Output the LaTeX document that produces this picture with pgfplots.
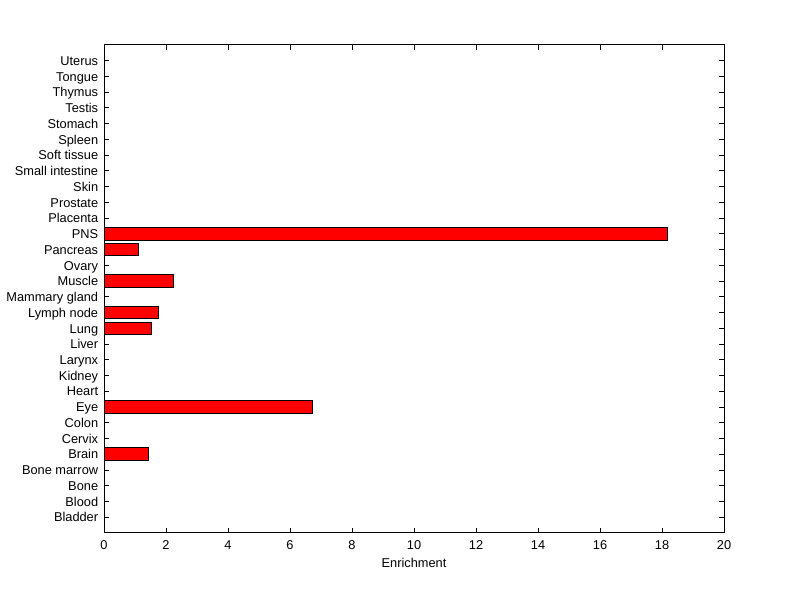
\documentclass[border=0pt]{standalone}
\usepackage{fontspec}
\setmainfont{Liberation Sans}
\usepackage{pgfplots}
\pgfplotsset{compat=1.18}
\begin{document}
\fontsize{9.6pt}{11pt}\selectfont
\begin{tikzpicture}
\useasboundingbox (0,0) rectangle (600pt,449.25pt);
\begin{axis}[
  at={(78pt,49.5pt)}, anchor=south west,
  scale only axis, width=465pt, height=366pt,
  xbar, bar width=0.8,
  xmin=0, xmax=20, ymin=0, ymax=31,
  xtick={0,2,...,20},
  ytick={1,...,30},
  yticklabels={Bladder,Blood,Bone,Bone marrow,Brain,Cervix,Colon,Eye,Heart,Kidney,Larynx,Liver,Lung,Lymph node,Mammary gland,Muscle,Ovary,Pancreas,PNS,Placenta,Prostate,Skin,Small intestine,Soft tissue,Spleen,Stomach,Testis,Thymus,Tongue,Uterus},
  tick align=inside, major tick length=3.75pt,
  xtick pos=both, ytick pos=both,
  tick style={black, line width=0.75pt},
  axis line style={black, line width=0.75pt},
  /pgf/number format/assume math mode=true,
  ticklabel style={font=\fontsize{9.6pt}{11pt}\selectfont},
  yticklabel style={xshift=-1pt, text height=7pt, text depth=0pt, anchor=east},
  xticklabel style={yshift=-2pt},
  xlabel={Enrichment},
  xlabel style={font=\fontsize{9.6pt}{11pt}\selectfont, yshift=-0.5pt},
]
\addplot[fill=red, draw=black, line width=0.75pt] coordinates {
(0,1) (0,2) (0,3) (0,4) (1.45,5) (0,6) (0,7) (6.71,8) (0,9) (0,10)
(0,11) (0,12) (1.54,13) (1.77,14) (0,15) (2.25,16) (0,17) (1.12,18) (18.18,19) (0,20)
(0,21) (0,22) (0,23) (0,24) (0,25) (0,26) (0,27) (0,28) (0,29) (0,30)
};
\end{axis}
\end{tikzpicture}
\end{document}
